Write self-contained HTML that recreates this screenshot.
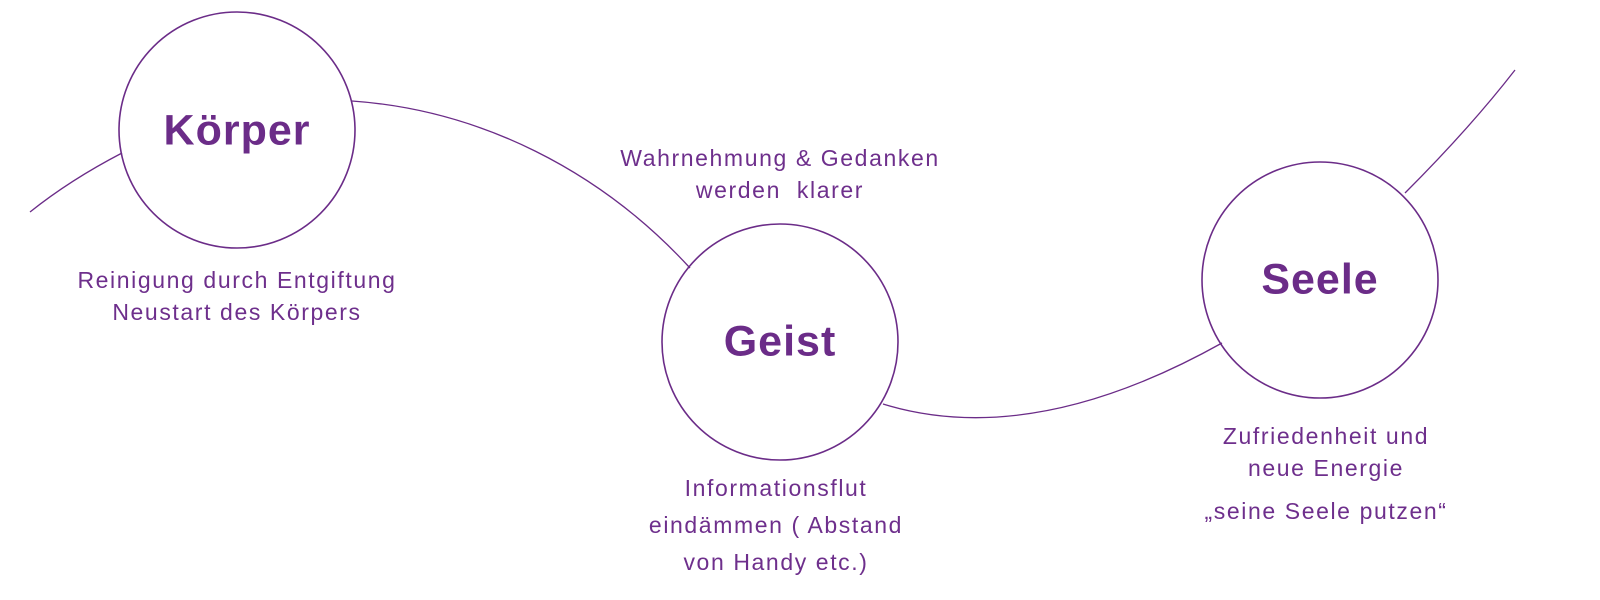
<!DOCTYPE html>
<html><head><meta charset="utf-8"><style>
html,body{margin:0;padding:0;background:#fff;}
body{width:1600px;height:600px;position:relative;overflow:hidden;font-family:"Liberation Sans",sans-serif;}
.t{position:absolute;color:#6e2f8c;font-size:23px;letter-spacing:1.6px;text-align:center;line-height:32px;white-space:nowrap;transform:translateX(-50%);}
.h{position:absolute;color:#6b2c88;font-weight:bold;font-size:43px;letter-spacing:1px;transform:translate(-50%,-50%);}
</style></head><body>
<svg width="1600" height="600" style="position:absolute;left:0;top:0">
<g fill="none" stroke="#6b2c88" stroke-width="1.3">
<path d="M30,212 Q70,180 122,153"/>
<path d="M352,101 C480,110 600,170 690,268"/>
<path d="M883,404 C1000,440 1120,400 1222,343"/>
<path d="M1405,193 Q1470,128 1515,70"/>
<circle cx="237" cy="130" r="118" stroke-width="1.6"/>
<circle cx="780" cy="342" r="118" stroke-width="1.6"/>
<circle cx="1320" cy="280" r="118" stroke-width="1.6"/>
</g></svg>
<div class="h" style="left:237px;top:131px">Körper</div>
<div class="h" style="left:780px;top:342px">Geist</div>
<div class="h" style="left:1320px;top:280px">Seele</div>
<div class="t" style="left:237px;top:264px">Reinigung durch Entgiftung<br>Neustart des Körpers</div>
<div class="t" style="left:780px;top:142px">Wahrnehmung &amp; Gedanken<br>werden&nbsp; klarer</div>
<div class="t" style="left:776px;top:470px;line-height:37px">Informationsflut<br>eindämmen ( Abstand<br>von Handy etc.)</div>
<div class="t" style="left:1326px;top:420px">Zufriedenheit und<br>neue Energie</div>
<div class="t" style="left:1326px;top:495px">„seine Seele putzen“</div>
</body></html>
